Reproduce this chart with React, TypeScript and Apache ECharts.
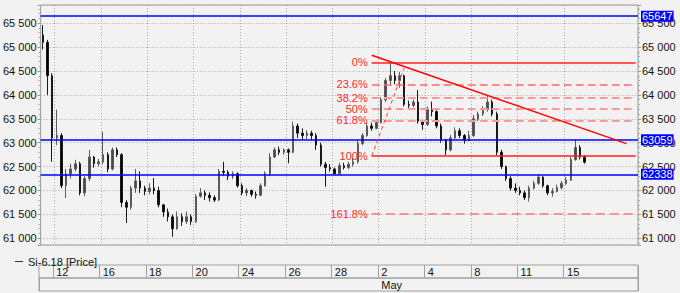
import React, { useEffect, useRef } from 'react';
import * as echarts from 'echarts';

// ---- data ----
const tradingDays = ['11','12','13','16','17','18','19','20','23','24','25','26','27','28','30','2','3','4','7','8','10','11','14','15','16','17','18'];
const firstDaySlots = 3;
const barsPerDay = 5;
const totalSlots = 129;
const tickLabels = ['12','16','18','20','24','26','28','2','4','8','11','15'];
const monthLabel = 'May';
const monthFirstDayIndex = 15; // May 2

// [open, close, low, high]
const ohlc: number[][] = [
  [65250,65100,64950,65460],[65100,64400,64000,65150],[64400,63100,62600,64450],
  [63100,63150,62950,63690],[63150,62100,62050,63200],[62100,62350,61840,62450],[62350,62450,62250,62560],[62450,62560,62400,62640],
  [62560,61950,61900,62600],[61950,62250,61880,62300],[62250,62700,62200,62850],[62700,62560,62480,62720],[62560,62600,62500,62660],
  [62600,62750,62550,63230],[62750,62450,62380,62800],[62450,62850,62420,62900],[62850,62750,62700,62900],[62750,61750,61650,62780],
  [61750,61650,61320,61800],[61650,62050,61600,62100],[62050,62200,61950,62450],[62200,62050,61950,62400],[62050,61980,61900,62100],
  [61980,62050,61920,62150],[62050,62000,61920,62260],[62000,61700,61650,62080],[61700,61550,61450,61720],[61550,61450,61350,61620],
  [61450,61200,61030,61500],[61200,61450,61180,61560],[61450,61350,61260,61520],[61350,61450,61300,61560],[61450,61350,61280,61500],
  [61350,61880,61320,61920],[61880,61950,61850,62050],[61950,61900,61800,62000],[61900,61850,61770,61960],[61850,61800,61760,61900],
  [61800,62400,61780,62450],[62400,62380,62300,62600],[62380,62300,62220,62420],[62300,62350,62240,62400],[62350,62100,62060,62380],
  [62100,61950,61900,62150],[61950,62000,61880,62050],[62000,61920,61870,62020],[61920,61900,61830,61980],[61900,62100,61880,62150],
  [62100,62350,62080,62400],[62350,62700,62300,62780],[62700,62850,62680,62900],[62850,62800,62740,62920],[62800,62850,62750,62880],
  [62850,62800,62570,62880],[62800,63350,62780,63440],[63350,63200,63100,63400],[63200,63150,63060,63300],[63150,63200,63080,63260],
  [63200,63150,63060,63250],[63150,62950,62850,63200],[62950,62550,62500,63000],[62550,62480,62080,62600],[62480,62450,62400,62550],
  [62450,62350,62320,62480],[62350,62520,62330,62580],[62520,62480,62440,62580],[62480,62550,62450,62600],[62550,62600,62500,62680],
  [62600,62980,62560,63050],[62980,63150,62950,63200],[63150,63350,63120,63420],[63350,63300,63250,63420],[63300,63420,63280,63480],
  [63420,63900,63400,63950],[63900,64300,63850,64350],[64300,64400,64200,64700],[64400,64300,64220,64500],[64300,64400,64150,64480],
  [64400,63800,63760,64420],[63800,63780,63720,63880],[63780,63850,63740,63900],[63850,63450,63400,64100],[63450,63380,63270,63480],
  [63380,63700,63350,63760],[63700,63650,63550,63860],[63650,63350,63300,63680],[63350,63050,63000,63400],[63050,62850,62740,63080],
  [62850,63100,62820,63160],[63100,63250,63080,63320],[63250,63150,63100,63300],[63150,63050,62980,63180],[63050,63150,63030,63250],
  [63150,63500,63120,63580],[63500,63600,63450,63650],[63600,63700,63560,63760],[63700,63850,63650,64000],[63850,63600,63550,63900],
  [63600,62800,62740,63650],[62800,62500,62450,62850],[62500,62250,62200,62520],[62250,62050,62000,62300],[62050,62000,61950,62150],
  [62000,61950,61900,62080],[61950,61850,61800,62000],[61850,62050,61770,62100],[62050,62150,62020,62200],[62150,62280,62120,62330],
  [62280,62100,62060,62300],[62100,61950,61900,62120],[61950,61980,61870,62050],[61980,62060,61960,62120],[62060,62150,62020,62200],
  [62150,62220,62120,62280],[62220,62650,62200,62700],[62650,62900,62620,63059],[62900,62700,62650,62950],[62700,62593,62560,62740],
];

const blueLevels = [65647, 63059, 62338];
const lastPrice = 62593;
const fibRatios = [0, 0.236, 0.382, 0.5, 0.618, 1, 1.618];
const fibLabels = ['0%', '23.6%', '38.2%', '50%', '61.8%', '100%', '161.8%'];
const fibHigh = 64680;
const fibLow = 62720;
const fibStartSlot = 71;
const fibEndSlot = 128;
const fibDiagEnd = [78, 64560];
const trendStart = [71, 64830];
const trendEnd = [126, 62980];
const yMin = 60860;
const yMax = 65880;

// ---- build categories ----
const cats: string[] = [];
const catDayIdx: number[] = [];
const catSlot: number[] = [];
tradingDays.forEach((d, i) => {
  const n = i === 0 ? firstDaySlots : barsPerDay;
  for (let s = 0; s < n; s++) {
    if (cats.length < totalSlots) {
      cats.push(`${i}:${d}:${s}`);
      catDayIdx.push(i);
      catSlot.push(s);
    }
  }
});
const labelAt: Record<number, string> = {};
{
  let k = 0;
  cats.forEach((c, idx) => {
    const di = catDayIdx[idx];
    if (catSlot[idx] === 0 && di >= 1 && k < tickLabels.length && tradingDays[di] === tickLabels[k]) {
      labelAt[idx] = tickLabels[k];
      k++;
    }
  });
}
const monthAt: Record<number, string> = {};
cats.forEach((c, idx) => {
  if (catDayIdx[idx] === monthFirstDayIndex && catSlot[idx] === 0) monthAt[idx] = monthLabel;
});

const FONT = "'Liberation Sans', Arial, sans-serif";
const fmt = (v: number) => String(Math.round(v)).replace(/\B(?=(\d{3})+(?!\d))/g, ' ');

export default function App() {
  const ref = useRef<HTMLDivElement>(null);
  useEffect(() => {
    if (!ref.current) return;
    const chart = echarts.init(ref.current, undefined, { renderer: 'svg' });

    const yCommon: any = {
      type: 'value',
      min: yMin,
      max: yMax,
      minInterval: 500,
      maxInterval: 500,
      axisLine: { show: false },
      axisTick: { show: true, length: 3, lineStyle: { color: '#999' } },
      minorTick: { show: true, splitNumber: 5, length: 2, lineStyle: { color: '#aaa' } },
      axisLabel: { formatter: fmt, color: '#111', fontSize: 11, fontFamily: FONT, margin: 4, showMinLabel: false, showMaxLabel: false },
    };

    const fibLines = fibRatios.map((r, i) => {
      const v = fibHigh - r * (fibHigh - fibLow);
      const solid = r === 0 || r === 1;
      let color = '#ff2020';
      let width = 1.5;
      let type: any = 'solid';
      if (!solid) {
        type = [8, 4];
        if (r === 0.236) { color = '#ff6b6b'; width = 1.5; }
        else if (r === 1.618) { color = '#ff7a7a'; width = 1.5; type = [9, 5]; }
        else { color = '#ff9a9a'; width = 2; }
      }
      return [
        {
          coord: [fibStartSlot, v],
          lineStyle: { color, width, type },
          label: { show: true, position: 'start', formatter: fibLabels[i], color: '#ff2a2a', fontSize: 11, fontFamily: FONT, distance: 4 },
        },
        { coord: [fibEndSlot, v] },
      ];
    });

    const markData: any[] = [
      ...blueLevels.map((v) => ({
        yAxis: v,
        lineStyle: { color: '#0000ff', width: 1.5, type: 'solid' },
        label: {
          show: true, position: 'end', formatter: String(v), distance: 3,
          backgroundColor: '#0000ff', color: '#ffffff', padding: [0, 1], fontSize: 11, lineHeight: 11, fontFamily: FONT,
        },
      })),
      {
        yAxis: lastPrice,
        lineStyle: { opacity: 0, width: 0 },
        label: {
          show: true, position: 'end', formatter: fmt(lastPrice), distance: 3,
          backgroundColor: '#ffffff', borderColor: '#888', borderWidth: 1, color: '#111', padding: [0, 1], fontSize: 11, lineHeight: 11, fontFamily: FONT,
        },
      },
      ...fibLines,
      [
        { coord: [fibStartSlot, fibLow], lineStyle: { color: '#ff4040', width: 1, type: [4, 3] }, label: { show: false } },
        { coord: fibDiagEnd },
      ],
      [
        { coord: trendStart, lineStyle: { color: '#ff0000', width: 1.5, type: 'solid' }, label: { show: false } },
        { coord: trendEnd },
      ],
    ];

    const sepInterval = (idx: number) => labelAt[idx] !== undefined;
    const monthInterval = (idx: number) => monthAt[idx] !== undefined;

    chart.setOption({
      animation: false,
      backgroundColor: '#f2f2f2',
      textStyle: { fontFamily: FONT },
      legend: {
        show: true, left: 10, top: 251, itemWidth: 8, itemHeight: 1, icon: 'rect', selectedMode: false,
        itemStyle: { color: '#333', borderWidth: 0 },
        textStyle: { fontSize: 11, color: '#111', fontFamily: FONT },
        data: ['Si-6.18 [Price]'],
      },
      grid: [
        { left: 39, right: 42, top: 5, height: 240, show: true, borderColor: '#9a9a9a', borderWidth: 1, backgroundColor: 'transparent' },
        { left: 39, right: 42, top: 265, height: 13, show: true, borderColor: '#a0a0a0', borderWidth: 1, backgroundColor: 'transparent' },
        { left: 39, right: 42, top: 278, height: 13, show: true, borderColor: '#a0a0a0', borderWidth: 1, backgroundColor: 'transparent' },
      ],
      xAxis: [
        {
          gridIndex: 0, type: 'category', data: cats, boundaryGap: true,
          axisLine: { show: false }, axisTick: { show: false }, axisLabel: { show: false },
          splitLine: { show: true, interval: (idx: number) => sepInterval(idx), lineStyle: { color: '#aaa', type: [1, 2] } },
        },
        {
          gridIndex: 1, type: 'category', data: cats, boundaryGap: true, position: 'bottom',
          axisLine: { show: false }, axisTick: { show: false },
          splitLine: { show: true, interval: (idx: number) => sepInterval(idx), lineStyle: { color: '#a0a0a0', type: 'solid' } },
          axisLabel: {
            show: true, inside: true, interval: (idx: number) => sepInterval(idx),
            formatter: (_v: string, idx: number) => labelAt[idx] ?? '',
            align: 'left', verticalAlign: 'middle', margin: 6.5, padding: [0, 0, 0, 1],
            fontSize: 11, color: '#111', fontFamily: FONT,
          },
        },
        {
          gridIndex: 2, type: 'category', data: cats, boundaryGap: true, position: 'bottom',
          axisLine: { show: false }, axisTick: { show: false },
          splitLine: { show: true, interval: (idx: number) => monthInterval(idx), lineStyle: { color: '#a0a0a0', type: 'solid' } },
          axisLabel: {
            show: true, inside: true, interval: (idx: number) => monthInterval(idx),
            formatter: (_v: string, idx: number) => monthAt[idx] ?? '',
            align: 'left', verticalAlign: 'middle', margin: 6.5, padding: [0, 0, 0, 1],
            fontSize: 11, color: '#111', fontFamily: FONT,
          },
        },
      ],
      yAxis: [
        { ...yCommon, gridIndex: 0, position: 'left', splitLine: { show: true, lineStyle: { color: '#aaa', type: [1, 2] } } },
        { ...yCommon, gridIndex: 0, position: 'right', splitLine: { show: false } },
        { gridIndex: 1, type: 'value', show: false },
        { gridIndex: 2, type: 'value', show: false },
      ],
      series: [
        {
          name: 'Si-6.18 [Price]',
          type: 'candlestick',
          xAxisIndex: 0,
          yAxisIndex: 0,
          data: ohlc,
          barWidth: 2,
          itemStyle: { color: '#4a4a4a', color0: '#000000', borderColor: '#5a5a5a', borderColor0: '#1a1a1a', borderWidth: 1 },
          markLine: {
            silent: true,
            symbol: ['none', 'none'],
            animation: false,
            label: { show: false },
            data: markData,
          },
        },
      ],
    });
    return () => chart.dispose();
  }, []);
  return <div ref={ref} style={{ position: 'fixed', left: 0, top: 0, width: 680, height: 293 }} />;
}
